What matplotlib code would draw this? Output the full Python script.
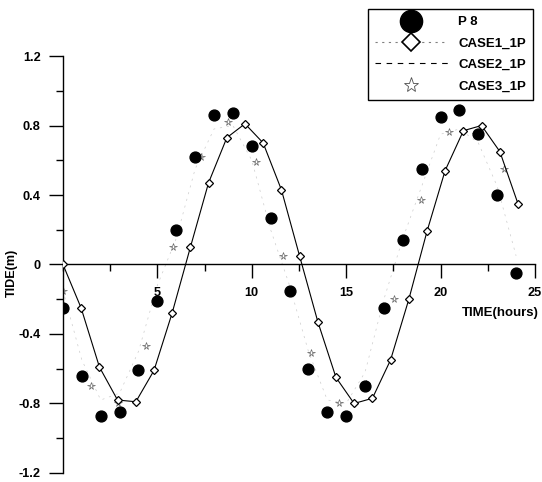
import numpy as np
import matplotlib
matplotlib.use("Agg")
import matplotlib.pyplot as plt
from matplotlib.lines import Line2D
from matplotlib.ticker import MultipleLocator

plt.rcParams['font.family'] = ['Liberation Sans', 'DejaVu Sans']

# observed tide at station P 8 (hourly)
p8_time = list(range(25))
p8_tide = [-0.25, -0.64, -0.87, -0.85, -0.61, -0.21, 0.20, 0.62, 0.86, 0.87,
           0.68, 0.27, -0.15, -0.60, -0.85, -0.87, -0.70, -0.25, 0.14, 0.55,
           0.85, 0.89, 0.75, 0.40, -0.05]

# model CASE1 (diamonds, solid line)
case1_time = [0.0, 0.96, 1.93, 2.89, 3.86, 4.82, 5.78, 6.75, 7.71, 8.68,
              9.64, 10.6, 11.57, 12.53, 13.5, 14.46, 15.42, 16.39, 17.35, 18.32,
              19.28, 20.24, 21.21, 22.17, 23.14, 24.1]
case1_tide = [0.0, -0.25, -0.59, -0.78, -0.79, -0.61, -0.28, 0.10, 0.47, 0.73,
              0.81, 0.70, 0.43, 0.05, -0.33, -0.65, -0.80, -0.77, -0.55, -0.20,
              0.19, 0.54, 0.77, 0.80, 0.65, 0.35]

# model CASE2 (faint dashed line)
case2_time = list(range(25))
case2_tide = [-0.15, -0.55, -0.78, -0.74, -0.50, -0.12, 0.15, 0.55, 0.78, 0.80,
              0.60, 0.20, -0.12, -0.50, -0.78, -0.80, -0.62, -0.20, 0.15, 0.45,
              0.75, 0.78, 0.70, 0.45, 0.05]

# model CASE3 (stars)
case3_time = [0.0, 1.46, 2.92, 4.38, 5.84, 7.3, 8.76, 10.22, 11.68, 13.14,
              14.6, 16.06, 17.52, 18.98, 20.44, 21.9, 23.36]
case3_tide = [-0.15, -0.70, -0.80, -0.47, 0.10, 0.62, 0.82, 0.59, 0.05, -0.51,
              -0.80, -0.69, -0.20, 0.37, 0.76, 0.75, 0.55]

fig = plt.figure(figsize=(5.42, 4.82), dpi=100)
ax = fig.add_axes([0.1162, 0.0187, 0.8708, 0.8651])

ax.plot(case2_time, case2_tide, color='0.8', lw=0.5, ls=(0, (3, 7)), zorder=1)
ax.plot(case1_time, case1_tide, color='black', lw=0.8, marker='D', ms=4.5,
        mfc='white', mec='black', mew=0.9, zorder=3)
ax.plot(case3_time, case3_tide, ls='none', marker='*', ms=5.5,
        mfc='white', mec='0.4', mew=0.5, zorder=2)
ax.plot(p8_time, p8_tide, ls='none', marker='o', ms=7.8,
        mfc='black', mec='black', zorder=4)

ax.set_xlim(0, 25)
ax.set_ylim(-1.2, 1.2)

ax.spines['top'].set_visible(False)
ax.spines['right'].set_visible(False)
ax.spines['bottom'].set_position(('data', 0))
ax.spines['left'].set_linewidth(1.0)
ax.spines['bottom'].set_linewidth(1.0)

ax.xaxis.set_minor_locator(MultipleLocator(2.5))
ax.yaxis.set_minor_locator(MultipleLocator(0.2))
ax.set_xticks([5, 10, 15, 20, 25])
ax.set_yticks([-1.2, -0.8, -0.4, 0, 0.4, 0.8, 1.2])
ax.set_yticklabels(['-1.2', '-0.8', '-0.4', '0', '0.4', '0.8', '1.2'])

ax.tick_params(axis='x', which='major', direction='out', length=10, width=1,
               pad=6, labelsize=9.2)
ax.tick_params(axis='x', which='minor', direction='out', length=5, width=1)
ax.tick_params(axis='y', which='major', direction='out', length=10, width=1,
               pad=6, labelsize=9.2)
ax.tick_params(axis='y', which='minor', direction='out', length=5, width=1)
for lbl in ax.get_xticklabels() + ax.get_yticklabels():
    lbl.set_fontweight('bold')

ax.set_xlabel('TIME(hours)', fontsize=9.5, fontweight='bold', ha='right', va='center')
ax.xaxis.set_label_coords(1.008, 0.384)
ax.set_ylabel('TIDE(m)', fontsize=9, fontweight='bold', va='center')
ax.yaxis.set_label_coords(-0.108, 0.48)

handles = [
    Line2D([], [], ls='none', marker='o', ms=16, mfc='black', mec='black'),
    Line2D([], [], color='0.5', lw=0.8, ls=(0, (2, 4)), marker='D', ms=9,
           mfc='white', mec='black', mew=1.2),
    Line2D([], [], color='black', lw=0.8, ls=(0, (5, 5))),
    Line2D([], [], ls='none', marker='*', ms=11, mfc='white', mec='0.3', mew=0.6),
]
labels = ['P 8', 'CASE1_1P', 'CASE2_1P', 'CASE3_1P']
leg = fig.legend(handles, labels, loc='upper right',
                 bbox_to_anchor=(0.984, 0.982), frameon=True, fancybox=False,
                 edgecolor='black', framealpha=1, prop={'size': 9.5, 'weight': 'bold'},
                 handlelength=5.5, handletextpad=0.8, labelspacing=0.7,
                 borderpad=0.55, borderaxespad=0)
leg.get_frame().set_linewidth(1.0)

fig.savefig('out.png', dpi=100)
